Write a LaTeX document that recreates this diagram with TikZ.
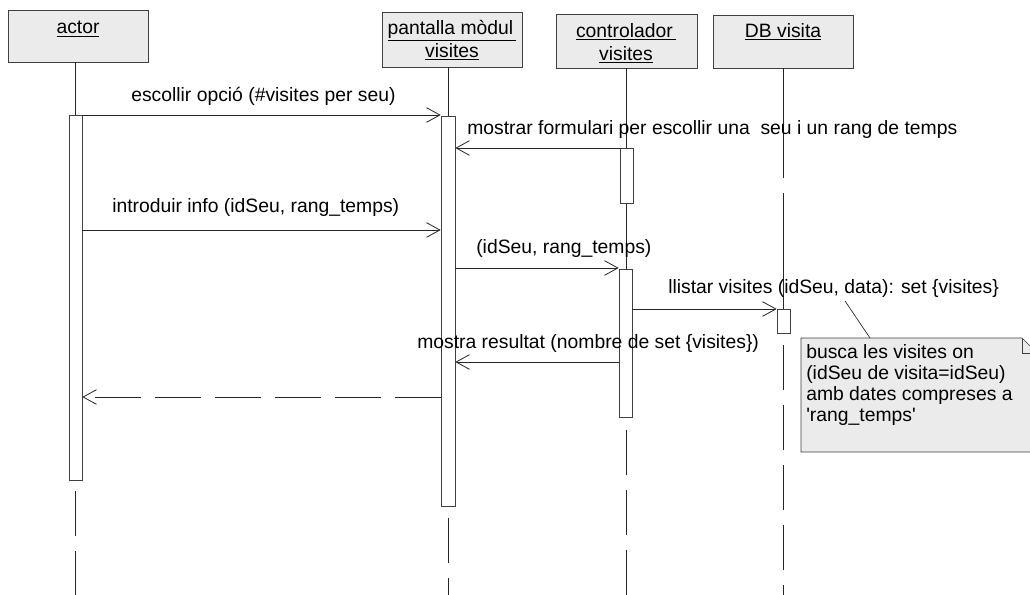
\documentclass[tikz,border=0pt]{standalone}
\usepackage{fontspec}
\setmainfont{Liberation Sans}
\usetikzlibrary{arrows.meta,fit}
\begin{document}
\begin{tikzpicture}[x=0.75pt,y=-0.75pt,
  hdr/.style={draw=black!75, fill=black!8, line width=0.5pt},
  act/.style={draw=black!75, fill=white, line width=0.5pt, inner sep=0pt},
  life/.style={draw=black!85, line width=0.5pt},
  lifed/.style={life, dash pattern=on 34pt off 11pt},
  msg/.style={draw=black!85, line width=0.5pt, -{Straight Barb[length=10pt,width=11pt,line width=0.6pt]}},
  ret/.style={msg, dash pattern=on 34pt off 11pt},
  lbl/.style={font=\fontsize{14.5}{17}\selectfont, inner sep=0pt, anchor=west},
  hl/.style={font=\fontsize{14.5}{17}\selectfont, inner sep=0pt}
]
\path[use as bounding box, fill=white] (0,0) rectangle (1030,595);
\clip (0,0) rectangle (1030,595);

% headers
\node[hdr, fit={(8,10) (148,62)}, inner sep=0pt] (hA) {};
\node[hdr, fit={(382,12) (522,67)}, inner sep=0pt] (hP) {};
\node[hdr, fit={(556,14) (697,68)}, inner sep=0pt] (hC) {};
\node[hdr, fit={(713,15) (853,68)}, inner sep=0pt] (hD) {};
\node[hl] (tA) at (78,29) {\underline{actor}};
\node[hl] (tP1) at (452,31) {\underline{pantalla mòdul\,}};
\node[hl] (tP2) at (452,52) {\underline{visites}};
\node[hl] (tC1) at (626,32) {\underline{controlador\,}};
\node[hl] (tC2) at (626,55) {\underline{visites}};
\node[hl] (tD) at (783,32) {\underline{DB visita}};

% lifelines (behind activations)
\coordinate (aAt) at (75.5,115);
\coordinate (aPt) at (448,116);
\draw[life] (aAt |- hA.south) -- (aAt);
\draw[lifed] (75.5,491) -- (75.5,595);
\draw[life] (aPt |- hP.south) -- (aPt);
\draw[lifed] (448,518) -- (448,595);
\draw[life] (626,68) -- (626,269);
\draw[lifed] (626,430) -- (626,595);
\coordinate (dg1) at (783,178);
\coordinate (dg2) at (783,193);
\draw[life] (783,68) -- (dg1);
\draw[life] (dg2) -- (783,309);
\draw[lifed] (783,345) -- (783,595);

% activations
\node[act, fit={(69,115) (82,480)}] (aA) {};
\node[act, fit={(441,116) (455,506)}] (aP) {};
\node[act, fit={(620,148) (633,203)}] (c1) {};
\node[act, fit={(619,269) (632,417)}] (c2) {};
\node[act, fit={(777,309) (790,333)}] (d1) {};

% messages
\draw[msg] (aA.east |- 0,115) -- (aP.west |- 0,115);
\draw[msg] (c1.west |- 0,148) -- (aP.east |- 0,148);
\draw[msg] (aA.east |- 0,230) -- (aP.west |- 0,230);
\draw[msg] (aP.east |- 0,268) -- (c2.west |- 0,268);
\draw[msg] (c2.east |- 0,309) -- (d1.west |- 0,309);
\draw[msg] (c2.west |- 0,362) -- (aP.east |- 0,362);
\draw[ret] (aP.west |- 0,397) -- (aA.east |- 0,397);

% labels
\node[lbl] (l1) at (131,96) {escollir opció (\#visites per seu)};
\node[lbl] (l2) at (467,130) {mostrar formulari per escollir una\ \ seu i un rang de temps};
\node[lbl] (l3) at (112,208) {introduir info (idSeu, rang\_temps)};
\node[lbl] (l4) at (476,249) {(idSeu, rang\_temps)};
\node[lbl] (l5) at (668,289) {llistar visites (idSeu, data): set \{visites\}};
\node[lbl] (l6) at (417,343) {mostra resultat (nombre de set \{visites\})};

% note
\draw[hdr] (801,338) -- (1022,338) -- (1037,353) -- (1037,452) -- (801,452) -- cycle;
\draw[hdr, fill=none] (1022,338) -- (1022,353) -- (1037,353);
\node[font=\fontsize{14.5}{15.75}\selectfont, inner sep=0pt, anchor=north west, align=left] (nt) at (806,344)
  {busca les visites on\\(idSeu de visita=idSeu)\\amb dates compreses a\\\textquotesingle rang\_temps\textquotesingle};
\coordinate (nc) at (870,338);
\coordinate (nd) at (845,301);
\draw[life] (nc) -- (nd);
\end{tikzpicture}
\end{document}
